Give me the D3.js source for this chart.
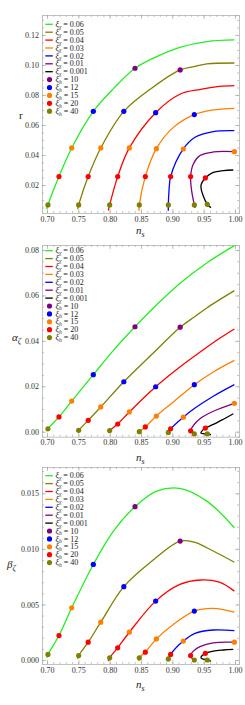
<!DOCTYPE html>
<html>
<head>
<meta charset="utf-8">
<script src="https://cdn.jsdelivr.net/npm/d3@7"></script>
<style>
    body { margin: 0; background: #fff; }
    svg { display: block; }
    text { font-family: "Liberation Serif", "DejaVu Serif", serif; }
</style>
</head>
<body>
<script>

// ---- data ----
// curve order: xi_chi = 0.06, 0.05, 0.04, 0.03, 0.02, 0.01, 0.001
var xiChi = ["0.06", "0.05", "0.04", "0.03", "0.02", "0.01", "0.001"];
var xiH = [10, 12, 15, 20, 40];

// spectral index along each curve
var nsVals = [
    [0.6995, 0.7015, 0.7191, 0.7394, 0.7739, 0.806, 0.8404, 0.875, 0.912, 0.955, 0.999],
    [0.7489, 0.7505, 0.7657, 0.7858, 0.8226, 0.8675, 0.9125, 0.935, 0.955, 0.999],
    [0.7979, 0.8000, 0.8128, 0.8314, 0.8734, 0.912, 0.945, 0.975, 0.999],
    [0.8468, 0.8473, 0.8569, 0.8745, 0.9016, 0.9351, 0.9654, 0.999],
    [0.8936, 0.8936, 0.8947, 0.8973, 0.9175, 0.9362, 0.9654, 0.999],
    [0.9362, 0.9351, 0.9308, 0.9292, 0.9335, 0.9441, 0.9654, 0.999],
    [0.9617, 0.9558, 0.9457, 0.9527, 0.9654, 0.9814, 0.9973]
];

// xi_h of the marked points (null = no marker)
var hMarks = [
    [null, 40, 20, 15, 12, null, 10, null, null, null, null],
    [null, 40, 20, 15, 12, null, 10, null, null, null],
    [null, 40, 20, 15, 12, null, null, null, null],
    [null, 40, 20, 15, null, 12, null, null],
    [null, 40, null, 20, 15, null, null, null],
    [null, 40, null, 20, null, null, null, 15],
    [null, 40, null, 20, null, null, null]
];

var rVals = [
    [0.0040, 0.0067, 0.0256, 0.0447, 0.0691, 0.0842, 0.0978, 0.1056, 0.1118, 0.1156, 0.1167],
    [0.0040, 0.0067, 0.0256, 0.0447, 0.0691, 0.0847, 0.0967, 0.0989, 0.1007, 0.1013],
    [0.0030, 0.0067, 0.0256, 0.0447, 0.0682, 0.0805, 0.0838, 0.0857, 0.0862],
    [0.0029, 0.0067, 0.0256, 0.0442, 0.0584, 0.0669, 0.0700, 0.0711],
    [0.0029, 0.0067, 0.0162, 0.0256, 0.0440, 0.0518, 0.0556, 0.0562],
    [0.0047, 0.0067, 0.0162, 0.0256, 0.0340, 0.0396, 0.0420, 0.0422],
    [0.0049, 0.0071, 0.0196, 0.0247, 0.0284, 0.0296, 0.0300]
];

var alphaVals = [
    [0.0002, 0.0013, 0.0065, 0.0135, 0.0251, 0.0358, 0.0462, 0.0559, 0.0653, 0.0743, 0.0819],
    [0.0000, 0.0006, 0.0050, 0.0109, 0.0220, 0.0341, 0.0460, 0.0505, 0.0545, 0.0621],
    [-0.0003, 0.0005, 0.0034, 0.0087, 0.0198, 0.0285, 0.0352, 0.0410, 0.0452],
    [-0.0003, 0.0000, 0.0021, 0.0069, 0.0131, 0.0207, 0.0263, 0.0314],
    [-0.0005, -0.0003, 0.0004, 0.0013, 0.0064, 0.0104, 0.0156, 0.0207],
    [-0.0012, -0.0010, -0.0003, 0.0004, 0.0027, 0.0057, 0.0090, 0.0125],
    [-0.0013, -0.0010, -0.0006, 0.0016, 0.0032, 0.0055, 0.0079]
];

var betaVals = [
    [0.0002, 0.0005, 0.0022, 0.0047, 0.0086, 0.0116, 0.0138, 0.0152, 0.01545, 0.0143, 0.0119],
    [0.0001, 0.0004, 0.0016, 0.0034, 0.0066, 0.0089, 0.0107, 0.0106, 0.0101, 0.0088],
    [-0.0001, 0.0002, 0.0011, 0.0025, 0.0053, 0.0068, 0.0072, 0.0070, 0.0062],
    [-0.0001, 0.0002, 0.0007, 0.0019, 0.0032, 0.0044, 0.00465, 0.0043],
    [-0.0001, 0.0001, 0.0002, 0.0005, 0.0017, 0.0024, 0.0027, 0.00265],
    [-0.0001, 0.0000, 0.0002, 0.0004, 0.0008, 0.0012, 0.00155, 0.0016],
    [-0.0001, 0.0000, 0.0002, 0.0006, 0.0008, 0.0009, 0.00096]
];

// tick labels
var nsTicks = [0.70, 0.75, 0.80, 0.85, 0.90, 0.95, 1.00];
var rTicks = [0.02, 0.04, 0.06, 0.08, 0.10, 0.12];
var alphaTicks = [0.00, 0.02, 0.04, 0.06, 0.08];
var betaTicks = [0.000, 0.005, 0.010, 0.015];

// ---- styles ----
var curveColors = ["#22ee22", "#808000", "#ff0000", "#ff8000", "#0000ff", "#800080", "#000000"];
var dotColors = {10: "#800080", 12: "#0000ff", 15: "#ff8000", 20: "#ff0000", 40: "#808000"};

var frameLeft = 42, frameRight = 239;

var panels = [
    {vals: rVals, top: 15, bottom: 213, domain: [0.00133, 0.1333], ticks: rTicks, minor: 0.005, fmt: ".2f",
        legendTop: 24.3, ylab: "r", ysub: null, ylabX: 19, ylabY: 119, xlabY: 234},
    {vals: alphaVals, top: 245, bottom: 436.7, domain: [-0.0022, 0.0822], ticks: alphaTicks, minor: 0.005, fmt: ".2f",
        legendTop: 250.7, ylab: "α", ysub: "ζ", ylabX: 12, ylabY: 341, xlabY: 461},
    {vals: betaVals, top: 467, bottom: 664, domain: [-0.00036, 0.01737], ticks: betaTicks, minor: 0.001, fmt: ".3f",
        legendTop: 475.7, ylab: "β", ysub: "ζ", ylabX: 7, ylabY: 568, xlabY: 688}
];

var svg = d3.select("body").append("svg")
    .attr("width", 245)
    .attr("height", 705);

var x = d3.scaleLinear().domain([0.692, 1.0064]).range([frameLeft, frameRight]);

function minorTicks(domain, step) {
    var out = [];
    var start = Math.ceil(domain[0] / step - 1e-9);
    var end = Math.floor(domain[1] / step + 1e-9);
    for (var k = start; k <= end; k++) {
        out.push(+(k * step).toFixed(6));
    }
    return out;
}

function styleAxis(g) {
    g.select(".domain").attr("stroke", "#b3b3b3").attr("stroke-width", 0.8);
    g.selectAll(".tick line").attr("stroke", "#a0a0a0").attr("stroke-width", 0.6);
    g.selectAll(".tick text")
        .attr("fill", "#333")
        .style("font-size", "8px")
        .style("font-family", "'Liberation Serif', serif");
}

function drawPanel(p, pi) {

    var y = d3.scaleLinear().domain(p.domain).range([p.bottom, p.top]);
    var g = svg.append("g");

    // frame + ticks (minor first, then major with labels)
    var xMinor = minorTicks(x.domain(), 0.01);
    var yMinor = minorTicks(p.domain, p.minor);

    var sides = [
        {axis: d3.axisBottom(x), tr: "translate(0," + p.bottom + ")", minor: xMinor, major: nsTicks, fmt: ".2f", labels: true},
        {axis: d3.axisTop(x), tr: "translate(0," + p.top + ")", minor: xMinor, major: nsTicks, fmt: ".2f", labels: false},
        {axis: d3.axisLeft(y), tr: "translate(" + frameLeft + ",0)", minor: yMinor, major: p.ticks, fmt: p.fmt, labels: true},
        {axis: d3.axisRight(y), tr: "translate(" + frameRight + ",0)", minor: yMinor, major: p.ticks, fmt: p.fmt, labels: false}
    ];

    sides.forEach(function (s) {
        var gm = g.append("g").attr("transform", s.tr)
            .call(s.axis.tickValues(s.minor).tickSize(-2).tickFormat(""));
        styleAxis(gm);

        s.axis.tickValues(s.major).tickSizeInner(-4).tickSizeOuter(0).tickPadding(3)
            .tickFormat(s.labels ? d3.format(s.fmt) : "");
        var gM = g.append("g").attr("transform", s.tr).call(s.axis);
        styleAxis(gM);
        gM.select(".domain").remove();
    });

    // clip to the frame
    var clipId = "clip" + pi;
    svg.append("clipPath").attr("id", clipId)
        .append("rect")
        .attr("x", frameLeft).attr("y", p.top)
        .attr("width", frameRight - frameLeft).attr("height", p.bottom - p.top);

    var plot = g.append("g").attr("clip-path", "url(#" + clipId + ")");

    var line = d3.line()
        .x(function (d) { return x(d[0]); })
        .y(function (d) { return y(d[1]); })
        .curve(d3.curveCatmullRom.alpha(0.5));

    for (var c = 0; c < nsVals.length; c++) {
        var pts = nsVals[c].map(function (n, i) { return [n, p.vals[c][i]]; });
        plot.append("path")
            .datum(pts)
            .attr("d", line)
            .attr("fill", "none")
            .attr("stroke", curveColors[c])
            .attr("stroke-width", 1.3);
    }

    // xi_h markers on top of the curves
    for (var c2 = 0; c2 < nsVals.length; c2++) {
        var marks = [];
        hMarks[c2].forEach(function (h, i) {
            if (h !== null) marks.push({h: h, n: nsVals[c2][i], v: p.vals[c2][i]});
        });
        plot.selectAll(null)
            .data(marks)
            .enter()
            .append("circle")
            .attr("cx", function (d) { return x(d.n); })
            .attr("cy", function (d) { return y(d.v); })
            .attr("r", 2.6)
            .attr("fill", function (d) { return dotColors[d.h]; });
    }

    // legend (packed tightly, as in the original)
    var step = 7.9;
    var leg = g.append("g");
    var items = [];
    xiChi.forEach(function (v, i) { items.push({type: "line", sub: "χ", val: v, color: curveColors[i]}); });
    xiH.forEach(function (v) { items.push({type: "dot", sub: "h", val: v, color: dotColors[v]}); });

    items.forEach(function (it, i) {
        var yy = p.legendTop + i * step;
        if (it.type === "line") {
            leg.append("line")
                .attr("x1", 45.3).attr("x2", 52.8)
                .attr("y1", yy).attr("y2", yy)
                .attr("stroke", it.color).attr("stroke-width", 1.3);
        } else {
            leg.append("circle")
                .attr("cx", 49.5).attr("cy", yy).attr("r", 2.6)
                .attr("fill", it.color);
        }
        var t = leg.append("text")
            .attr("x", 55.5)
            .attr("y", yy + 2.6)
            .style("font-size", "8px")
            .attr("fill", "#222");
        t.append("tspan").style("font-style", "italic").text("ξ");
        t.append("tspan").attr("dy", 1.8).style("font-size", "5.5px").style("font-style", "italic").text(it.sub);
        t.append("tspan").attr("dy", -1.8).text(" = " + it.val);
    });

    // axis titles
    var yl = g.append("text")
        .attr("x", p.ylabX)
        .attr("y", p.ylabY)
        .style("font-size", "11px")
        .attr("fill", "#222");
    yl.append("tspan").style("font-style", p.ysub ? "italic" : "normal").text(p.ylab);
    if (p.ysub) {
        yl.append("tspan").attr("dy", 2.5).style("font-size", "8px").style("font-style", "italic").text(p.ysub);
    }

    var xl = g.append("text")
        .attr("x", 136)
        .attr("y", p.xlabY)
        .style("font-size", "11px")
        .attr("fill", "#222");
    xl.append("tspan").style("font-style", "italic").text("n");
    xl.append("tspan").attr("dy", 2.5).style("font-size", "8px").style("font-style", "italic").text("s");
}

panels.forEach(drawPanel);

</script>
</body>
</html>
